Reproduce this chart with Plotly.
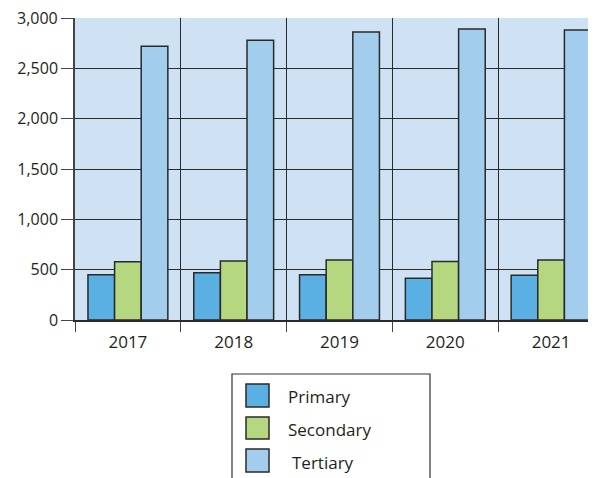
import plotly.graph_objects as go

years = ["2017", "2018", "2019", "2020", "2021"]
primary = [450, 470, 450, 415, 445]
secondary = [578, 585, 595, 580, 595]
tertiary = [2720, 2780, 2860, 2890, 2880]

series_names = ["Primary", "Secondary", "Tertiary"]
colors = ["#5aafe3", "#b5d77f", "#a2cdec"]
y_ticks = [0, 500, 1000, 1500, 2000, 2500, 3000]
y_ticktext = ["0", "500", "1,000", "1,500", "2,000", "2,500", "3,000"]

FONT = "Open Sans"
TXT = "#231f20"

fig = go.Figure()
for name, vals, c in zip(series_names, [primary, secondary, tertiary], colors):
    fig.add_trace(go.Bar(x=years, y=vals, name=name,
                         marker=dict(color=c, line=dict(color="#2a2a2a", width=1.5)),
                         showlegend=False))

# page has an 8px body offset
OFF = 8
W, H = 596, 478
L, T = 75 - OFF, 18 - OFF
R = 0
B = (H + OFF) - 320
pw, ph = W - L - R, H - T - B

def px(x):
    return (x - OFF - L) / pw

def py(y):
    return (H + OFF - B - y) / ph

fig.update_layout(
    width=W, height=H,
    margin=dict(l=L, r=R, t=T, b=B),
    paper_bgcolor="white",
    plot_bgcolor="#cfe2f3",
    barmode="group",
    bargap=0.245,
    bargroupgap=0,
    font=dict(family=FONT, size=17, color=TXT),
    xaxis=dict(
        type="category", range=[-0.5, 4.5], tickson="boundaries",
        showgrid=True, gridcolor="#2a2a2a", gridwidth=1,
        ticks="outside", ticklen=10, tickcolor="#444", tickwidth=1,
        showline=True, linecolor="#2a2a2a", linewidth=1.5,
        ticklabelstandoff=6,
        tickfont=dict(family=FONT, size=17, color=TXT),
    ),
    yaxis=dict(
        range=[0, 3000], tickvals=y_ticks, ticktext=y_ticktext,
        showgrid=True, gridcolor="#2a2a2a", gridwidth=1,
        ticks="outside", ticklen=12, tickcolor="#444", tickwidth=1,
        showline=True, linecolor="#444", linewidth=1.5,
        zeroline=False,
        tickfont=dict(family=FONT, size=16, color=TXT),
    ),
)

# manual legend
shapes = [dict(type="rect", xref="paper", yref="paper",
               x0=px(232), x1=px(430), y0=py(500), y1=py(374),
               line=dict(color="#333", width=1.2), fillcolor="rgba(0,0,0,0)")]
sw_y = [(384, 407), (417, 439), (449, 472)]
txt_y = [396, 429, 462]
txt_x = [288, 288, 292]
ann = []
for name, c, (y0, y1), ty, tx in zip(series_names, colors, sw_y, txt_y, txt_x):
    shapes.append(dict(type="rect", xref="paper", yref="paper",
                       x0=px(246), x1=px(269), y0=py(y1), y1=py(y0),
                       line=dict(color="#2a2a2a", width=1.5), fillcolor=c))
    ann.append(dict(text=name, xref="paper", yref="paper", x=px(tx), y=py(ty),
                    xanchor="left", yanchor="middle", showarrow=False,
                    xshift=-2, font=dict(family=FONT, size=17, color=TXT)))

# top tick label (plotly hides it because it overflows the page top)
ann.append(dict(text=y_ticktext[-1], xref="paper", yref="y", x=0, y=y_ticks[-1],
                xanchor="right", yanchor="middle", xshift=-15, showarrow=False,
                font=dict(family=FONT, size=16, color=TXT)))
fig.update_layout(shapes=shapes, annotations=ann)

fig.write_html("out.html")
